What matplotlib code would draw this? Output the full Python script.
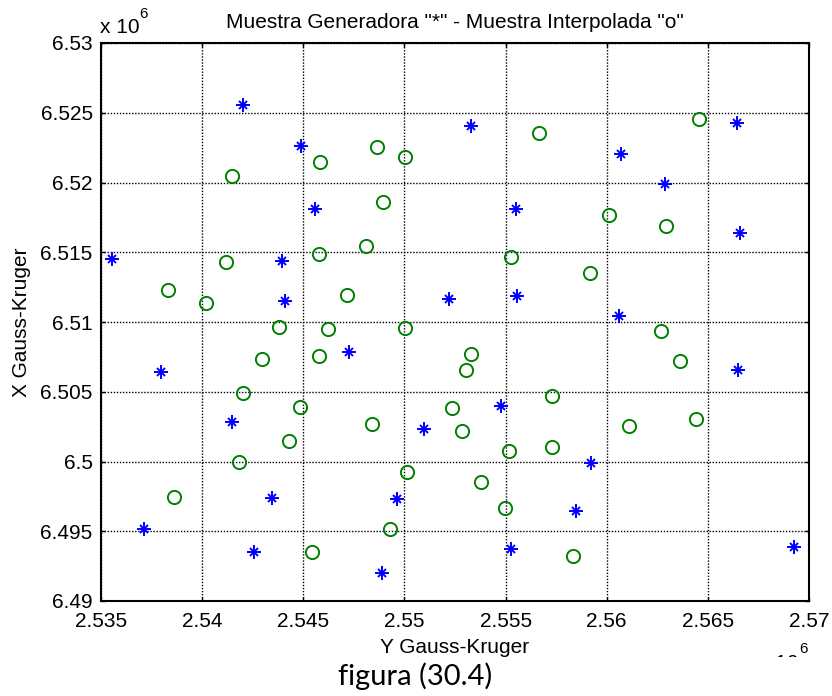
import matplotlib
matplotlib.use("Agg")
import matplotlib.pyplot as plt
from matplotlib.patches import Rectangle

# Gauss-Kruger coordinates, in units of 10^6 m
# generating sample ("*")
y_gen = [2.54200, 2.54487, 2.54557, 2.55328, 2.56072, 2.56286, 2.55550, 2.56643,
         2.56657, 2.53553, 2.54393, 2.54412, 2.54725, 2.53796, 2.54146, 2.55219,
         2.55557, 2.56059, 2.56648, 2.55476, 2.55096, 2.55921, 2.54343, 2.54961,
         2.53714, 2.54257, 2.54890, 2.55850, 2.55529, 2.56925]
x_gen = [6.52555, 6.52264, 6.51808, 6.52405, 6.52204, 6.51987, 6.51808, 6.52429,
         6.51641, 6.51451, 6.51439, 6.51150, 6.50782, 6.50643, 6.50280, 6.51162,
         6.51186, 6.51043, 6.50655, 6.50397, 6.50230, 6.49989, 6.49740, 6.49728,
         6.49515, 6.49348, 6.49198, 6.49644, 6.49372, 6.49384]

# interpolated sample ("o")
y_int = [2.54582, 2.54862, 2.55002, 2.54146, 2.54895, 2.55665, 2.56456, 2.56011,
         2.56295, 2.54118, 2.54578, 2.54808, 2.53830, 2.54017, 2.54717, 2.54379,
         2.54623, 2.55002, 2.54578, 2.54297, 2.54200, 2.54483, 2.54840, 2.54429,
         2.54183, 2.55525, 2.55916, 2.56270, 2.55331, 2.55302, 2.56360, 2.55729,
         2.55235, 2.56439, 2.55285, 2.56108, 2.55517, 2.55729, 2.55013, 2.53862,
         2.54928, 2.54541, 2.55381, 2.55496, 2.55833]
x_int = [6.52145, 6.52252, 6.52180, 6.52049, 6.51862, 6.52357, 6.52453, 6.51767,
         6.51688, 6.51428, 6.51487, 6.51547, 6.51229, 6.51138, 6.51193, 6.50966,
         6.50947, 6.50959, 6.50758, 6.50734, 6.50488, 6.50392, 6.50266, 6.50146,
         6.49996, 6.51463, 6.51349, 6.50935, 6.50768, 6.50655, 6.50722, 6.50469,
         6.50381, 6.50302, 6.50218, 6.50254, 6.50077, 6.50101, 6.49922, 6.49747,
         6.49513, 6.49348, 6.49850, 6.49664, 6.49324]

x_ticks = [2.535, 2.54, 2.545, 2.55, 2.555, 2.56, 2.565, 2.57]
y_ticks = [6.49, 6.495, 6.5, 6.505, 6.51, 6.515, 6.52, 6.525, 6.53]

plt.rcParams['font.family'] = ['Liberation Sans', 'DejaVu Sans']

W, H = 832, 696
fig = plt.figure(figsize=(W / 100, H / 100), dpi=100)
ax = fig.add_axes([101 / W, 1 - 601 / H, 708 / W, 558 / H])

# MATLAB style '*' marker: a '+' with a smaller 'x' on top
ax.plot(y_gen, x_gen, linestyle='none', marker='+', color='#0000ff',
        markersize=9.5, markeredgewidth=1.4, zorder=3)
ax.plot(y_gen, x_gen, linestyle='none', marker='x', color='#0000ff',
        markersize=5.5, markeredgewidth=1.4, zorder=3)
ax.plot(y_int, x_int, linestyle='none', marker='o', markerfacecolor='none',
        markeredgecolor='#008000', markersize=9.5, markeredgewidth=1.4, zorder=3)

ax.set_xlim(2.535, 2.57)
ax.set_ylim(6.49, 6.53)
ax.set_xticks(x_ticks)
ax.set_yticks(y_ticks)
ax.set_xticklabels(['%g' % v for v in x_ticks])
ax.set_yticklabels(['%g' % v for v in y_ticks])
ax.tick_params(direction='in', length=3, width=1, top=True, right=True,
               labelsize=15, colors='black')
ax.tick_params(axis='x', pad=8)
ax.tick_params(axis='y', pad=6)
ax.grid(True, color='black', linestyle=(0, (1, 1.2)), linewidth=1.0)
for s in ax.spines.values():
    s.set_linewidth(1.5)
    s.set_color('black')

ax.set_title('Muestra Generadora "*" - Muestra Interpolada "o"', fontsize=15, pad=11)
ax.set_xlabel('Y Gauss-Kruger', fontsize=15, labelpad=5)
ax.set_ylabel('X Gauss-Kruger', fontsize=15, labelpad=7)

# exponent labels (MATLAB style)
fig.text(100 / W, 1 - 33 / H, 'x 10', fontsize=15, ha='left', va='baseline')
fig.text(139 / W, 1 - 18 / H, '6', fontsize=11, ha='left', va='baseline')
fig.text(759 / W, 1 - 669 / H, 'x 10', fontsize=15, ha='left', va='baseline')
fig.text(799 / W, 1 - 653 / H, '6', fontsize=11, ha='left', va='baseline')

# caption strip pasted over the bottom of the plot
fig.patches.append(Rectangle((0, 0), 1, 1 - 657 / H, transform=fig.transFigure,
                             facecolor='white', edgecolor='none', zorder=5))
fig.text(415 / W, 1 - 685 / H, 'figura (30.4)', fontsize=21, family='Lato',
         ha='center', va='baseline', zorder=6)

fig.savefig('out.png', dpi=100)
